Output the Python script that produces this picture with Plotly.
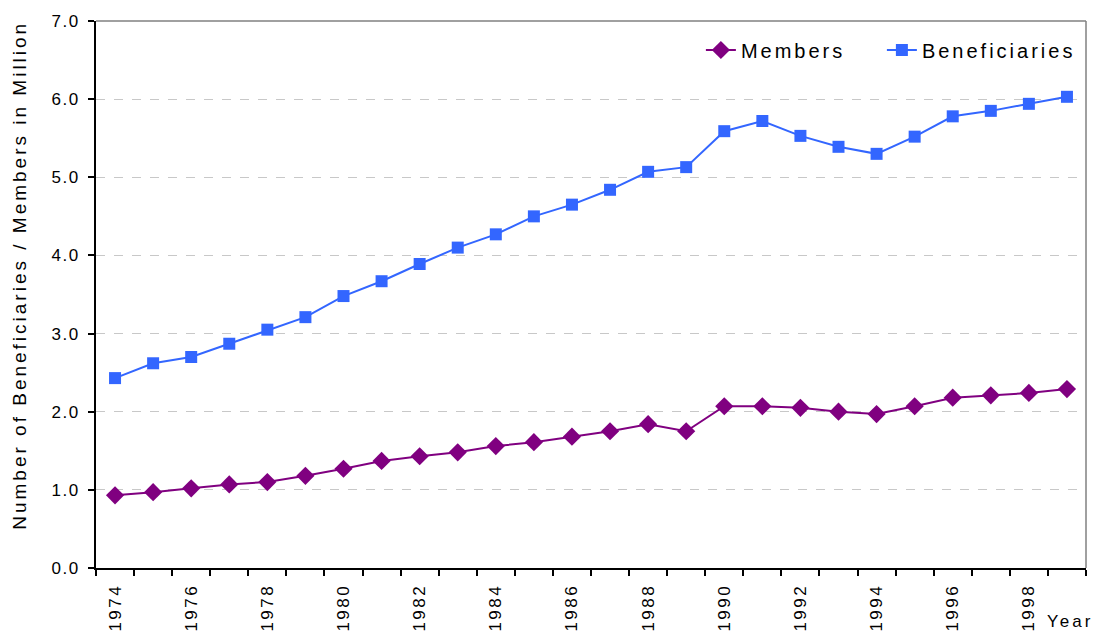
import plotly.graph_objects as go

years = list(range(1974, 2000))
members = [0.93, 0.97, 1.02, 1.07, 1.10, 1.18, 1.27, 1.37, 1.43, 1.48, 1.56, 1.61, 1.68,
           1.75, 1.84, 1.75, 2.07, 2.07, 2.05, 2.00, 1.97, 2.07, 2.18, 2.21, 2.24, 2.29]
beneficiaries = [2.43, 2.62, 2.70, 2.87, 3.05, 3.21, 3.48, 3.67, 3.89, 4.10, 4.27, 4.50, 4.65,
                 4.84, 5.07, 5.13, 5.59, 5.72, 5.53, 5.39, 5.30, 5.52, 5.78, 5.85, 5.94, 6.03]
xtick_years = list(range(1974, 2000, 2))
ytick_vals = [0, 1, 2, 3, 4, 5, 6, 7]

FONT = "Liberation Sans, Arial, sans-serif"

fig = go.Figure()
fig.add_trace(go.Scatter(
    x=years, y=members, name="Members", mode="lines+markers",
    line=dict(color="#800080", width=2),
    marker=dict(symbol="diamond", size=14, color="#800080"),
))
fig.add_trace(go.Scatter(
    x=years, y=beneficiaries, name="Beneficiaries", mode="lines+markers",
    line=dict(color="#3366FF", width=2),
    marker=dict(symbol="square", size=12, color="#3366FF"),
))

fig.update_layout(
    width=1099, height=632,
    margin=dict(l=96, r=13, t=21, b=64),
    paper_bgcolor="white", plot_bgcolor="white",
    font=dict(family=FONT, size=15, color="black"),
    showlegend=True,
    legend=dict(orientation="h", x=0.611, xanchor="left", y=0.947, yanchor="middle",
                font=dict(size=20), bgcolor="rgba(0,0,0,0)",
                entrywidth=136, entrywidthmode="pixels"),
    xaxis=dict(
        automargin=False,
        range=[1973.5, 1999.5], tickmode="array", tickvals=xtick_years,
        ticktext=[str(y) for y in xtick_years], tickangle=-90,
        ticks="outside", ticklen=7, tickcolor="rgba(0,0,0,0)",
        showgrid=False, zeroline=False,
        showline=True, linecolor="black", linewidth=2,
        mirror=False, tickfont=dict(size=17),
        minor=dict(tickmode="array", tickvals=[y - 0.5 for y in years] + [1999.5],
                   ticks="outside", ticklen=6, tickcolor="black", tickwidth=1.5, showgrid=False),
    ),
    yaxis=dict(
        automargin=False,
        range=[0, 7], tickmode="array", tickvals=ytick_vals,
        ticktext=[f"{v:.1f}" for v in ytick_vals],
        ticks="outside", ticklen=6, tickcolor="black", tickwidth=1.5,
        ticklabelstandoff=5,
        showgrid=True, gridcolor="#c8c8c8", griddash="dash", gridwidth=1,
        zeroline=False, showline=True, linecolor="black", linewidth=2,
        tickfont=dict(size=17),
    ),
)

# top and right border (gray)
fig.add_shape(type="line", xref="paper", yref="paper", x0=0, x1=1, y0=1, y1=1,
              line=dict(color="#808080", width=1.5))
fig.add_shape(type="line", xref="paper", yref="paper", x0=1, x1=1, y0=0, y1=1,
              line=dict(color="#808080", width=1.5))

fig.add_annotation(text="Number of Beneficiaries / Members in Million",
                   xref="paper", yref="paper", x=-0.0768, y=0.536,
                   xanchor="center", yanchor="middle", textangle=-90, showarrow=False,
                   font=dict(size=19))

fig.add_annotation(text="Year", xref="paper", yref="paper", x=0.984, y=-0.0987,
                   xanchor="center", yanchor="middle", showarrow=False,
                   font=dict(size=17))

post = """
document.body.style.margin = '0';
document.querySelectorAll('.xtick text').forEach(function(t){ t.style.letterSpacing = '2.5px'; });
document.querySelectorAll('.ytick text').forEach(function(t){ t.style.letterSpacing = '1.5px'; });
document.querySelectorAll('.legendtext').forEach(function(t){ t.style.letterSpacing = '3px'; });
document.querySelectorAll('.annotation-text').forEach(function(t){ t.style.letterSpacing = '3px'; });
document.querySelectorAll('.legend .scrollbox, .legend').forEach(function(s){ s.removeAttribute('clip-path'); });
"""

fig.write_html("out.html", post_script=post, config={"displayModeBar": False})
